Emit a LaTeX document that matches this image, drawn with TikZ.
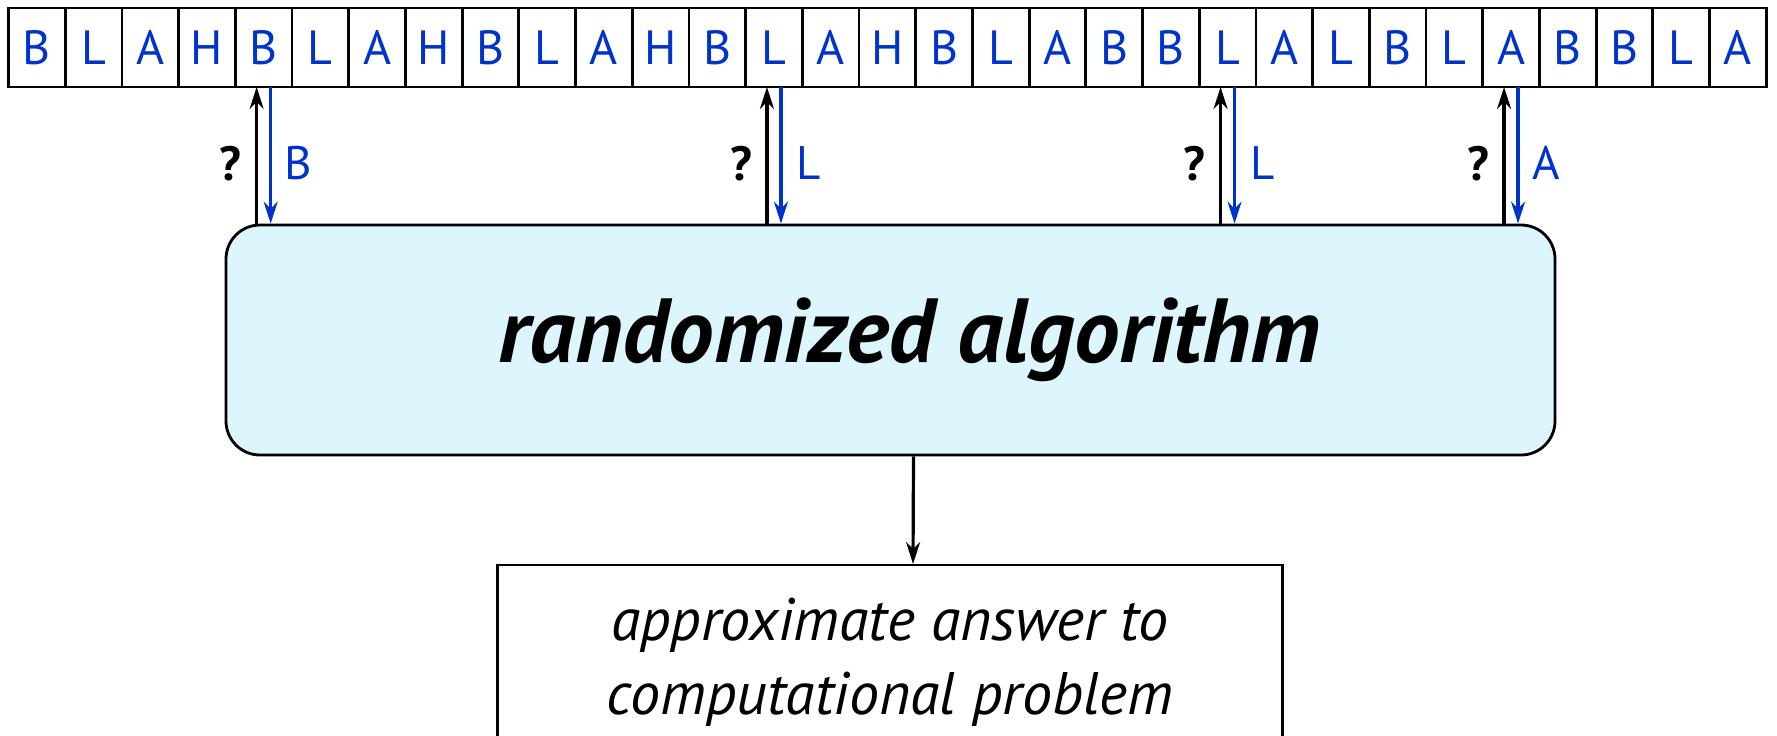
\documentclass[tikz,border=0pt]{standalone}
\usepackage{fontspec}
\setmainfont{PT Sans}
\usetikzlibrary{arrows.meta,calc}
\definecolor{sblue}{RGB}{0,51,204}
\definecolor{boxfill}{RGB}{221,245,252}
\begin{document}
\begin{tikzpicture}[x=0.5pt,y=-0.5pt,
  cell/.style={draw=black, line width=1.4pt, minimum width=28.35pt, minimum height=39.5pt, inner sep=0pt, outer sep=0pt, text=sblue, font=\fontsize{24}{26}\selectfont},
  algbox/.style={draw=black, line width=1.4pt, fill=boxfill, rounded corners=17pt, minimum width=664.5pt, minimum height=115pt, font=\fontsize{45.5}{50}\selectfont\bfseries\itshape},
  ansbox/.style={draw=black, line width=1.1pt, minimum width=392.5pt, minimum height=97pt, align=center, anchor=north, font=\fontsize{30}{37}\selectfont\itshape},
  upar/.style={draw=black, line width=1.6pt, -{Stealth[length=11pt,width=7pt]}},
  dnar/.style={draw=sblue, line width=1.6pt, -{Stealth[length=11pt,width=7pt]}},
  qlab/.style={font=\fontsize{24}{26}\selectfont\bfseries},
  blab/.style={text=sblue, font=\fontsize{23.5}{26}\selectfont}]
\useasboundingbox (0,0) rectangle (1777,735);
\clip (0,0) rectangle (1777,735);
\foreach \l [count=\i from 0] in {B,L,A,H,B,L,A,H,B,L,A,H,B,L,A,H,B,L,A,B,B,L,A,L,B,L,A,B,B,L,A}
  \node[cell] (c\i) at ({8.5+56.7*(\i+0.5)},47.5) {\l};
\node[algbox] (alg) at (890.5,340) {\hspace*{19pt}randomized algorithm};
\node[ansbox] (ans) at (890,564) {approximate answer to\\computational problem};
\foreach \c/\t/\k in {4/B/1,13/L/2,21/L/3,26/A/4} {
  \draw[upar] ($(c\c.south |- alg.north)+(-7,0)$) -- ($(c\c.south)+(-7,0)$);
  \draw[dnar] ($(c\c.south)+(7,0)$) -- ($(c\c.south |- alg.north)+(7,0)$);
  \node[qlab] (q\k) at ($(c\c.south)+(-33,77)$) {?};
  \node[blab] (r\k) at ($(c\c.south)+(35,76)$) {\t};
}
\draw[upar] ($(alg.south)+(23,0)$) -- ($(ans.north)+(23,0)$);
\end{tikzpicture}
\end{document}
